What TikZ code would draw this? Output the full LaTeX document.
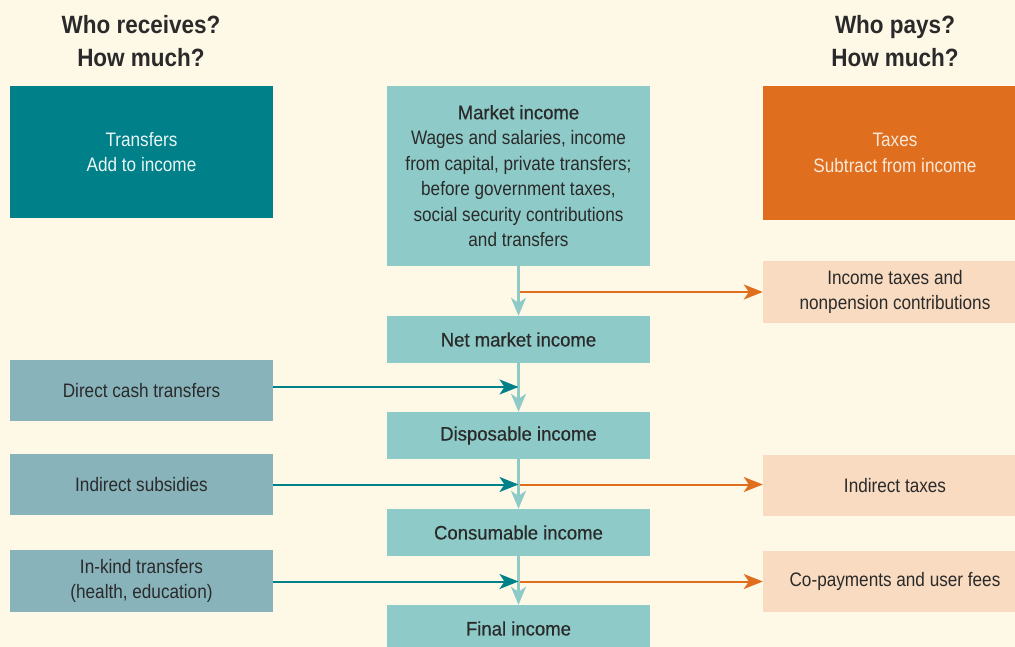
\documentclass[tikz,border=0pt]{standalone}
\usepackage{fontspec}
\setmainfont{Liberation Sans}[FakeStretch=0.88]
\newfontfamily\medfont{Liberation Sans}[FakeStretch=0.95,FakeBold=0.6]
\newfontfamily\headfont{Liberation Sans}[FakeStretch=0.9,BoldFont={Liberation Sans Bold}]
\usetikzlibrary{arrows.meta}
\definecolor{bgc}{HTML}{FEF8E7}
\definecolor{tealdark}{HTML}{008089}
\definecolor{orng}{HTML}{DF6F1F}
\definecolor{mktc}{HTML}{8ECBC8}
\definecolor{leftc}{HTML}{88B3BB}
\definecolor{rightc}{HTML}{F8DBC1}
\definecolor{txt}{HTML}{2A2A2A}
\definecolor{wtxt}{HTML}{EAF6F6}
\definecolor{otxt}{HTML}{FCE8D8}
\tikzset{
  box/.style={inner sep=0pt, align=center, text=txt,
    font=\fontsize{19.5}{25.5}\selectfont},
  midbox/.style={box, fill=mktc, minimum width=263pt, minimum height=47pt,
    font=\medfont\fontsize{19.5}{25.5}\selectfont},
  leftbox/.style={box, fill=leftc, minimum width=263pt, minimum height=61pt},
  rightbox/.style={box, fill=rightc, minimum width=264pt, minimum height=61pt},
  head/.style={inner sep=0pt, align=center, text=txt,
    font=\headfont\bfseries\fontsize{25}{33}\selectfont},
  vline/.style={draw=mktc, line width=2.2pt,
    -{Stealth[length=18pt,width=15pt,inset=5pt]}},
  tarr/.style={draw=tealdark, line width=2pt,
    -{Stealth[length=19pt,width=15pt,inset=5pt]}},
  oarr/.style={draw=orng, line width=2pt,
    -{Stealth[length=19pt,width=15pt,inset=5pt]}},
}
\begin{document}
\begin{tikzpicture}[x=1pt,y=-1pt]
\useasboundingbox (0,0) rectangle (1015,647);
\fill[bgc] (0,0) rectangle (1015,647);

% headings
\node[head] (hl) at (141,41.5) {Who receives?\\How much?};
\node[head] (hr) at (895,41.5) {Who pays?\\How much?};

% top boxes
\node[box, fill=tealdark, text=wtxt, minimum width=263pt, minimum height=132pt] (trans) at (141.5,152) {Transfers\\Add to income};
\node[box, fill=orng, text=otxt, minimum width=264pt, minimum height=134pt] (taxes) at (895,153) {Taxes\\Subtract from income};
\node[box, fill=mktc, minimum width=263pt, minimum height=180pt] (mkt) at (518.5,176)
  {{\medfont Market income}\\Wages and salaries, income\\from capital, private transfers;\\before government taxes,\\social security contributions\\and transfers};

% income chain
\node[midbox] (net) at (518.5,339.5) {Net market income};
\node[midbox] (disp) at (518.5,435.5) {Disposable income};
\node[midbox] (cons) at (518.5,532.5) {Consumable income};
\node[midbox] (final) at (518.5,628.5) {Final income};

% left boxes
\node[leftbox] (dct) at (141.5,390.5) {Direct cash transfers};
\node[leftbox] (isub) at (141.5,484.5) {Indirect subsidies};
\node[leftbox, minimum height=62pt] (inkind) at (141.5,581) {In-kind transfers\\(health, education)};

% right boxes
\node[rightbox, minimum height=62pt] (itx) at (895,292) {Income taxes and\\nonpension contributions};
\node[rightbox] (indt) at (895,485.5) {Indirect taxes};
\node[rightbox] (copay) at (895,581.5) {Co-payments and user fees};

% junctions on the vertical flow
\coordinate (j1) at (518.5,292);
\coordinate (j2) at (518.5,387);
\coordinate (j3) at (518.5,484.5);
\coordinate (j4) at (518.5,581.5);

% vertical connectors
\draw[vline] (mkt.south) -- (net.north);
\draw[vline] (net.south) -- (disp.north);
\draw[vline] (disp.south) -- (cons.north);
\draw[vline] (cons.south) -- (final.north);

% transfers in
\draw[tarr] (dct.east |- j2) -- (j2);
\draw[tarr] (isub.east |- j3) -- (j3);
\draw[tarr] (inkind.east |- j4) -- (j4);

% taxes out
\draw[oarr] ([xshift=1pt]j1) -- (itx.west |- j1);
\draw[oarr] ([xshift=1pt]j3) -- (indt.west |- j3);
\draw[oarr] ([xshift=1pt]j4) -- (copay.west |- j4);
\end{tikzpicture}
\end{document}
